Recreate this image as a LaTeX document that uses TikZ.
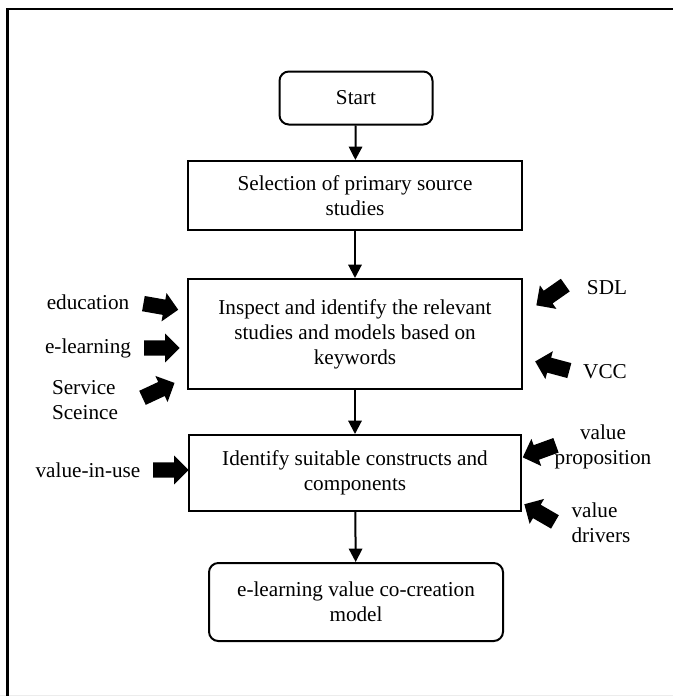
\documentclass[tikz,border=0pt]{standalone}
\usepackage{fontspec}
\setmainfont{Liberation Serif}
\usepackage{tikz}
\usetikzlibrary{arrows.meta,shapes.arrows}

\tikzset{
  box/.style={draw,line width=1.5pt,align=center,inner sep=2pt},
  rbox/.style={box,rounded corners=7pt},
  flow/.style={line width=1.5pt,-{Triangle[length=10pt,width=10pt]}},
  fat/.style={single arrow,fill=black,draw=none,minimum height=26.5pt,
    inner xsep=0pt,inner ysep=5.6pt,single arrow head extend=5pt},
  lab/.style={align=center,inner sep=0pt}
}

\begin{document}
\begin{tikzpicture}[x=0.75pt,y=-0.75pt,font=\fontsize{15.9}{18.8}\selectfont]
  \useasboundingbox (0,0) rectangle (673,696);
  \draw[gray!15,line width=0.8pt] (0,695.5)--(673,695.5);
  \draw[line width=1.6pt] (7.5,696)--(7.5,9)--(673,9);
  \node[rbox,minimum width=114.75pt,minimum height=39.75pt] (start) at (356,98) {Start};
  \node[box,minimum width=251pt,minimum height=51.75pt] (select) at (355,195.5) {Selection of primary source\\studies};
  \node[box,minimum width=250pt,minimum height=82.5pt] (inspect) at (355,334) {Inspect and identify the relevant\\studies and models based on\\keywords};
  \node[box,minimum width=249pt,minimum height=57pt] (ident) at (355,473) {Identify suitable constructs and\\components};
  \node[rbox,minimum width=220.5pt,minimum height=58.5pt] (model) at (356,602) {e-learning value co-creation\\model};
  \draw[flow] (start)--(select);
  \draw[flow] (select)--(inspect);
  \draw[flow] (inspect)--(ident);
  \draw[flow] (ident)--(model);
  % inputs on the left
  \node[lab] (edu) at (88,302) {education};
  \node[lab] (elearn) at (88,348) {e-learning};
  \node[lab,align=left] (serv) at (85,400) {Service\\Sceince};
  \node[lab] (viu) at (88,470) {value-in-use};
  \node[fat,rotate=-10] (a1) at (157,306) {};
  \node[fat] (a2) at (158,348) {};
  \node[fat,rotate=25] (a3) at (155,392) {};
  \node[fat] (a4) at (167,470) {};
  % inputs on the right
  \node[lab] (sdl) at (607,288) {SDL};
  \node[lab] (vcc) at (605,372) {VCC};
  \node[lab] (prop) at (603,447) {value\\proposition};
  \node[lab,align=left] (drv) at (601,523) {value\\drivers};
  \node[fat,rotate=215] (a5) at (554,293) {};
  \node[fat,rotate=165] (a6) at (556,367) {};
  \node[fat,rotate=200] (a7) at (543,450) {};
  \node[fat,rotate=150] (a8) at (543,515) {};
\end{tikzpicture}
\end{document}
